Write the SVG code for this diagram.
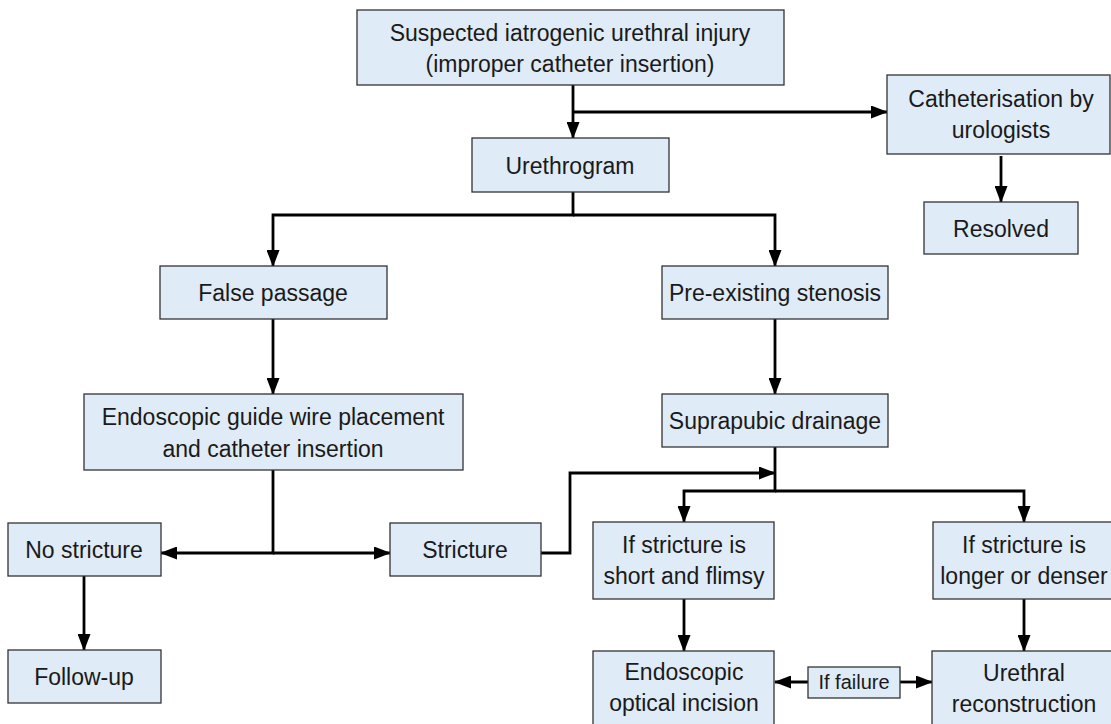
<svg xmlns="http://www.w3.org/2000/svg" width="1111" height="724" viewBox="0 0 1111 724">
<style>
.box{fill:#dfebf6;stroke:#333;stroke-width:1.3}
.t{font-family:"Liberation Sans",Arial,Helvetica,sans-serif;font-size:23px;fill:#1a1a1a;text-anchor:middle}
.s{font-size:20px}
.c{fill:none;stroke:#000;stroke-width:2.8}
</style>
<defs>
<marker id="ah" markerWidth="17" markerHeight="13" refX="16" refY="6.5" orient="auto" markerUnits="userSpaceOnUse"><path d="M0,0 L17,6.5 L0,13 z" fill="#000"/></marker>
</defs>
<rect width="1111" height="724" fill="#fff"/>
<g id="connectors">
<path class="c" d="M573,85 V138" marker-end="url(#ah)"/>
<path class="c" d="M573,112 H887" marker-end="url(#ah)"/>
<path class="c" d="M1001,156 V202" marker-end="url(#ah)"/>
<path class="c" d="M573,192 V215 H273 V266" marker-end="url(#ah)"/>
<path class="c" d="M573,215 H775 V266" marker-end="url(#ah)"/>
<path class="c" d="M273,319 V394" marker-end="url(#ah)"/>
<path class="c" d="M775,319 V394" marker-end="url(#ah)"/>
<path class="c" d="M273,470 V553 H161" marker-end="url(#ah)"/>
<path class="c" d="M273,553 H390" marker-end="url(#ah)"/>
<path class="c" d="M541,553 H570 V473 H775" marker-end="url(#ah)"/>
<path class="c" d="M775,447 V491 H684 V522" marker-end="url(#ah)"/>
<path class="c" d="M775,491 H1024 V522" marker-end="url(#ah)"/>
<path class="c" d="M684,599 V651" marker-end="url(#ah)"/>
<path class="c" d="M1024,599 V651" marker-end="url(#ah)"/>
<path class="c" d="M84,576 V650" marker-end="url(#ah)"/>
<path class="c" d="M808,682 H775" marker-end="url(#ah)"/>
<path class="c" d="M900,682 H932" marker-end="url(#ah)"/>
</g>
<g id="n-suspected"><rect class="box" x="357" y="10" width="427" height="75"/><text class="t" x="570" y="41">Suspected iatrogenic urethral injury</text><text class="t" x="570" y="72">(improper catheter insertion)</text></g>
<g id="n-urethrogram"><rect class="box" x="472" y="138" width="197" height="54"/><text class="t" x="570" y="174">Urethrogram</text></g>
<g id="n-cath"><rect class="box" x="887" y="75" width="223" height="79"/><text class="t" x="1001" y="107">Catheterisation by</text><text class="t" x="1001" y="138">urologists</text></g>
<g id="n-resolved"><rect class="box" x="924" y="202" width="154" height="52"/><text class="t" x="1001" y="237">Resolved</text></g>
<g id="n-false"><rect class="box" x="160" y="266" width="227" height="53"/><text class="t" x="273" y="301">False passage</text></g>
<g id="n-preexisting"><rect class="box" x="662" y="266" width="226" height="53"/><text class="t" x="775" y="301">Pre-existing stenosis</text></g>
<g id="n-guidewire"><rect class="box" x="84" y="394" width="379" height="76"/><text class="t" x="273" y="425">Endoscopic guide wire placement</text><text class="t" x="273" y="457">and catheter insertion</text></g>
<g id="n-suprapubic"><rect class="box" x="662" y="394" width="226" height="53"/><text class="t" x="775" y="429">Suprapubic drainage</text></g>
<g id="n-nostricture"><rect class="box" x="8" y="523" width="153" height="53"/><text class="t" x="84" y="558">No stricture</text></g>
<g id="n-stricture"><rect class="box" x="390" y="523" width="151" height="53"/><text class="t" x="465" y="558">Stricture</text></g>
<g id="n-short"><rect class="box" x="593" y="522" width="181" height="77"/><text class="t" x="684" y="553">If stricture is</text><text class="t" x="684" y="584">short and flimsy</text></g>
<g id="n-longer"><rect class="box" x="933" y="522" width="182" height="77"/><text class="t" x="1024" y="553">If stricture is</text><text class="t" x="1024" y="584">longer or denser</text></g>
<g id="n-followup"><rect class="box" x="8" y="650" width="153" height="53"/><text class="t" x="84" y="685">Follow-up</text></g>
<g id="n-optical"><rect class="box" x="593" y="651" width="181" height="88"/><text class="t" x="684" y="680">Endoscopic</text><text class="t" x="684" y="711">optical incision</text></g>
<g id="n-failure"><rect class="box" x="808" y="667" width="92" height="31"/><text class="t s" x="854" y="689">If failure</text></g>
<g id="n-urethral"><rect class="box" x="932" y="651" width="183" height="88"/><text class="t" x="1024" y="681">Urethral</text><text class="t" x="1024" y="712">reconstruction</text></g>
</svg>
